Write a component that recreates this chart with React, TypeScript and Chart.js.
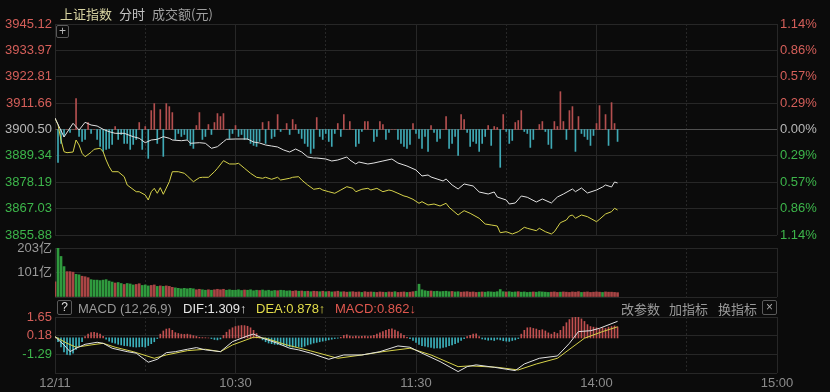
import React, { useEffect, useRef } from "react";
import { Chart, registerables } from "chart.js";

Chart.register(...registerables);

const FONT = '"Liberation Sans", "Noto Sans CJK SC", sans-serif';
const CJK = '"Noto Sans CJK SC", "Liberation Sans", sans-serif';
const BG = "#0b0b0b";
const GRID = "#272727";
const GRID_BASE = "#505050";
const RED = "#d55f5a";
const GREEN = "#3db64b";
const NEUTRAL = "#b8b8b8";
const AXIS_TEXT = "#8c8c8c";
const WHITE = "#e2e2e2";
const YELLOW = "#d6d24a";
const BAR_RED = "#b44f4f";
const BAR_CYAN = "#3fa9b5";
const VOL_RED = "#a94545";
const VOL_GREEN = "#2f9a3e";
const MACD_RED = "#c25050";
const MACD_CYAN = "#3bb0bb";

// ---------- axes / tick data ----------
const BASE_PRICE = 3900.5;
const priceTicks = [3855.88, 3867.03, 3878.19, 3889.34, 3900.5, 3911.66, 3922.81, 3933.97, 3945.12];
const pctTickLabels = ["1.14%", "0.86%", "0.57%", "0.29%", "0.00%", "0.29%", "0.57%", "0.86%", "1.14%"];
const volTicks = [0, 101.5, 203];
const volTickLabels = ["", "101亿", "203亿"];
const macdTicks = [-2.76, -1.29, 0.18, 1.65];
const macdTickLabels = ["", "-1.29", "0.18", "1.65"];
const timeTicks = [0, 30, 60, 90, 120, 150, 180, 210, 240];
const timeLabels = ["12/11", "", "10:30", "", "11:30", "", "14:00", "", "15:00"];

// ---------- index line (white) ----------
const priceMinutes = [0, 3, 6, 8, 10, 12, 14, 16, 18, 20, 23, 26, 28, 30, 32, 34, 36, 38, 39, 42, 44, 45, 48, 50, 52, 54, 56, 57, 60, 64, 66, 68, 70, 72, 74, 76, 78, 80, 82, 84, 86, 87, 90, 92, 94, 97, 98, 100, 101, 104, 106, 109, 112, 114, 116, 117, 120, 122, 124, 125, 127, 129, 130, 132, 134, 136, 139, 141, 144, 146, 147, 150, 151, 153, 155, 157, 160, 162, 165, 167, 169, 172, 173, 175, 177, 180, 182, 183, 185, 186, 187];
const priceValues = [3905.36, 3897.33, 3903.12, 3900.29, 3903.54, 3902.4, 3901.98, 3900.58, 3899.57, 3898.89, 3898.89, 3897.46, 3896.78, 3894.92, 3896.06, 3896.36, 3897.46, 3896.78, 3896.06, 3895.76, 3896.06, 3894.66, 3894.92, 3894.66, 3892.55, 3893.23, 3895.34, 3896.36, 3896.48, 3896.48, 3895.21, 3894.79, 3893.94, 3893.52, 3893.1, 3891.83, 3890.98, 3892.25, 3890.98, 3888.87, 3888.45, 3888.45, 3888.02, 3887.18, 3887.6, 3888.87, 3887.6, 3885.91, 3886.76, 3885.91, 3886.33, 3887.18, 3888.02, 3886.33, 3885.49, 3885.06, 3883.37, 3880.84, 3881.26, 3880.41, 3879.57, 3878.72, 3879.57, 3877.03, 3875.34, 3877.45, 3876.61, 3874.07, 3873.22, 3874.07, 3871.95, 3870.68, 3868.99, 3869.42, 3872.38, 3871.83, 3869.84, 3871.11, 3869.42, 3871.95, 3873.22, 3875.34, 3874.2, 3875.76, 3873.64, 3874.91, 3876.18, 3877.03, 3876.18, 3878.3, 3877.88];

// ---------- leading line (yellow) ----------
const leadMinutes = [0, 1, 2, 3, 4, 6, 7, 8, 9, 10, 12, 13, 15, 16, 17, 18, 19, 21, 23, 24, 27, 28, 30, 31, 32, 33, 34, 35, 36, 38, 39, 41, 43, 44, 46, 48, 49, 51, 53, 54, 56, 58, 60, 61, 63, 65, 67, 69, 70, 72, 74, 75, 78, 79, 81, 82, 84, 86, 88, 89, 91, 93, 95, 97, 99, 100, 102, 104, 105, 107, 109, 111, 112, 114, 116, 117, 119, 121, 122, 124, 126, 128, 130, 131, 134, 135, 136, 138, 141, 143, 145, 147, 148, 150, 152, 154, 156, 157, 160, 161, 163, 165, 166, 168, 170, 171, 172, 173, 175, 177, 180, 181, 183, 185, 186, 187];
const leadValues = [3905.24, 3902.5, 3896.06, 3891.11, 3890.69, 3890.98, 3896.06, 3893.94, 3890.43, 3889.0, 3890.86, 3892.13, 3892.55, 3891.11, 3887.6, 3884.77, 3882.65, 3882.65, 3880.54, 3877.03, 3874.19, 3874.19, 3872.8, 3870.68, 3874.19, 3875.63, 3873.52, 3875.89, 3873.1, 3878.42, 3882.65, 3882.65, 3881.98, 3880.83, 3878.42, 3880.12, 3880.29, 3880.29, 3882.65, 3884.09, 3887.31, 3885.91, 3885.91, 3886.21, 3884.09, 3881.98, 3880.29, 3879.86, 3880.29, 3879.44, 3880.29, 3879.14, 3879.86, 3880.29, 3880.54, 3879.14, 3877.03, 3875.21, 3875.63, 3874.91, 3874.19, 3873.52, 3874.91, 3876.31, 3875.63, 3874.19, 3875.21, 3875.63, 3874.91, 3875.63, 3874.19, 3874.91, 3874.62, 3873.52, 3872.38, 3872.08, 3870.98, 3869.29, 3869.97, 3868.57, 3868.99, 3868.15, 3869.29, 3867.6, 3864.34, 3865.31, 3866.16, 3865.06, 3862.95, 3860.53, 3860.11, 3859.69, 3856.86, 3857.28, 3856.31, 3857.28, 3859.14, 3858.72, 3857.7, 3858.72, 3857.28, 3856.31, 3857.28, 3861.09, 3862.23, 3863.92, 3864.34, 3862.95, 3864.34, 3863.62, 3861.51, 3862.52, 3864.76, 3865.74, 3867.17, 3866.46];

// ---------- up/down breadth bars (one per minute) ----------
const breadth = [
  0, -33, -14, -7, 0, -3, 0, 31, -7, -12,
  -10, 7, -4, 0, -10, -17, -22, -20, -19, -15,
  3, -10, -5, -14, -14, -20, -15, -10, 7, -20,
  3, -29, 19, 26, -14, 20, -27, 26, 23, 17,
  -10, -4, -7, -5, -10, -16, -19, 4, 17, -10,
  -7, 5, -5, 7, 16, 13, 16, 0, -9, -4,
  4, -7, -5, -10, -10, -14, -16, -17, -12, 7,
  -14, 8, -9, -7, 15, -2, 0, 6, -5, 10,
  5, -4, -9, -14, -17, -24, -19, 12, -7, -10,
  -4, -12, -17, -4, 6, -7, 15, 0, 8, 0,
  -17, -14, -2, 8, 8, 0, -12, -7, 8, 5,
  -10, -3, 0, 0, -10, -14, -17, -19, -15, 6,
  -4, -9, -19, -7, -22, 4, -3, -12, -9, 0,
  13, -19, -14, -7, -26, 15, 10, -3, -17, -12,
  -14, -22, -14, -7, 4, -16, 3, 2, -38, 15,
  -2, -14, -11, 7, 9, 19, -2, -4, -18, -10,
  0, 5, 8, -2, -15, -19, 8, 3, 38, 8,
  -10, 19, 23, -22, 13, -4, -7, -10, -16, -6,
  6, 24, 0, 15, -16, 27, 6, -12,
];

// ---------- turnover (亿元, one per minute) ----------
const volume = [
  63, 203, 168, 126, 105, 105, 103, 94, 92, 86,
  84, 80, 72, 70, 70, 68, 70, 72, 66, 62,
  58, 60, 56, 52, 56, 54, 50, 52, 55, 48,
  50, 46, 48, 50, 44, 46, 44, 46, 44, 40,
  38, 36, 34, 36, 34, 36, 34, 30, 32, 30,
  28, 30, 28, 30, 32, 30, 32, 28, 30, 28,
  28, 30, 27, 29, 28, 30, 26, 28, 27, 29,
  26, 28, 25, 27, 26, 28, 27, 25, 26, 24,
  26, 24, 25, 23, 24, 22, 24, 23, 22, 24,
  22, 23, 21, 22, 24, 21, 22, 20, 21, 22,
  20, 21, 19, 22, 20, 21, 20, 19, 21, 20,
  19, 21, 20, 22, 19, 20, 21, 19, 20, 22,
  24, 53, 30, 26, 24, 25, 23, 24, 22, 23,
  24, 22, 23, 21, 22, 20, 21, 22, 20, 21,
  19, 20, 21, 20, 22, 21, 20, 22, 31, 22,
  21, 22, 20, 21, 22, 20, 21, 19, 20, 21,
  20, 22, 21, 20, 19, 20, 21, 19, 20, 21,
  20, 19, 21, 20, 22, 19, 20, 21, 19, 20,
  21, 20, 19, 21, 20, 20, 19, 18,
];
const volumeUp = [
  1, 0, 0, 0, 1, 1, 1, 0, 0, 1,
  1, 1, 0, 0, 0, 0, 0, 0, 0, 0,
  1, 0, 0, 1, 0, 0, 0, 1, 1, 0,
  0, 0, 1, 1, 0, 1, 0, 1, 1, 1,
  0, 0, 0, 0, 0, 0, 0, 1, 1, 0,
  0, 1, 0, 1, 1, 1, 1, 0, 0, 0,
  0, 0, 0, 1, 0, 0, 0, 0, 1, 0,
  0, 0, 0, 0, 1, 0, 0, 0, 0, 1,
  1, 0, 1, 0, 1, 0, 1, 1, 0, 1,
  0, 1, 0, 1, 1, 0, 1, 1, 0, 1,
  1, 1, 0, 1, 1, 1, 0, 1, 1, 1,
  0, 1, 1, 0, 1, 1, 1, 0, 1, 1,
  0, 0, 0, 0, 0, 1, 0, 0, 0, 0,
  0, 0, 1, 0, 0, 1, 1, 1, 1, 1,
  1, 0, 1, 0, 0, 0, 0, 0, 0, 0,
  1, 0, 0, 0, 1, 0, 0, 0, 0, 1,
  0, 0, 0, 0, 0, 1, 1, 1, 0, 1,
  1, 1, 1, 1, 1, 0, 1, 1, 1, 1,
  1, 1, 0, 1, 1, 1, 1, 1,
];

// ---------- MACD ----------
const macdHist = [
  0, -0.3, -0.7, -1.1, -1.3, -1.33, -1.2, -0.9, -0.6, -0.3,
  0.1, 0.3, 0.42, 0.45, 0.38, 0.3, 0.12, -0.1, -0.25, -0.35,
  -0.42, -0.5, -0.55, -0.6, -0.62, -0.66, -0.7, -0.72, -0.7, -0.68,
  -0.72, -0.6, -0.45, -0.3, -0.05, 0.3, 0.55, 0.7, 0.74, 0.6,
  0.42, 0.35, 0.3, 0.28, 0.3, 0.25, 0.18, 0.12, 0.05, 0.03,
  0.02, 0, -0.05, -0.12, -0.15, -0.08, 0.2, 0.45, 0.65, 0.8,
  0.9, 0.95, 0.98, 0.97, 0.92, 0.8, 0.6, 0.35, 0.1, -0.15,
  -0.3, -0.4, -0.45, -0.5, -0.52, -0.55, -0.6, -0.65, -0.7, -0.72,
  -0.7, -0.68, -0.72, -0.65, -0.55, -0.48, -0.4, -0.35, -0.3, -0.25,
  -0.2, -0.15, -0.1, -0.05, -0.02, 0.05, 0.2, 0.25, 0.15, 0.1,
  0.15, 0.1, 0.12, 0.15, 0.1, 0.15, 0.2, 0.3, 0.4, 0.5,
  0.6, 0.68, 0.71, 0.62, 0.5, 0.35, 0.2, 0.05, -0.05, -0.2,
  -0.35, -0.5, -0.6, -0.65, -0.7, -0.75, -0.8, -0.78, -0.8, -0.75,
  -0.7, -0.6, -0.55, -0.45, -0.35, -0.2, -0.05, 0.1, 0.2, 0.3,
  0.32, 0.1, -0.08, -0.12, -0.18, -0.15, -0.2, -0.1, -0.15, -0.22,
  -0.25, -0.27, -0.2, -0.15, -0.05, 0.3, 0.6, 0.8, 0.82, 0.75,
  0.7, 0.6, 0.65, 0.55, 0.4, 0.3, 0.45, 0.35, 0.6, 0.9,
  1.2, 1.45, 1.6, 1.64, 1.62, 1.5, 1.3, 1.05, 0.9, 0.85,
  0.8, 0.7, 0.8, 0.75, 0.85, 0.9, 0.95, 0.862,
];
const difMinutes = [0, 3, 5, 7, 10, 14, 16, 19, 24, 27, 31, 34, 37, 40, 44, 47, 50, 55, 59, 64, 66, 69, 74, 78, 81, 85, 91, 96, 102, 108, 114, 118, 122, 128, 134, 137, 140, 146, 150, 153, 156, 161, 167, 171, 174, 178, 181, 187];
const difValues = [0.1, -0.55, -1.08, -0.81, -0.5, -0.34, -0.42, -0.81, -1.08, -1.2, -1.91, -1.68, -1.16, -1.08, -0.89, -0.76, -0.94, -1.08, -0.29, 0.16, 0.31, -0.02, -0.42, -0.81, -0.94, -1.2, -1.68, -1.34, -1.34, -1.08, -0.63, -0.73, -1.2, -1.86, -2.65, -2.26, -2.12, -2.31, -2.46, -2.57, -2.05, -1.6, -1.42, -0.42, 0.5, 0.57, 0.76, 1.309];
const deaMinutes = [0, 4, 7, 12, 16, 20, 26, 33, 37, 44, 50, 55, 59, 66, 70, 77, 85, 94, 102, 109, 118, 125, 134, 138, 147, 154, 160, 167, 176, 182, 187];
const deaValues = [0.1, -0.42, -0.73, -0.55, -0.42, -0.73, -1.08, -1.6, -1.34, -1.0, -0.89, -1.08, -0.55, 0.06, -0.02, -0.55, -1.02, -1.6, -1.34, -1.08, -0.81, -1.34, -2.26, -2.2, -2.31, -2.52, -2.05, -1.6, -0.02, 0.5, 0.878];

// ---------- helpers ----------
const pts = (xs: number[], ys: number[]) => xs.map((x, i) => ({ x, y: ys[i] }));
const perMinute = (ys: number[]) => ys.map((y, i) => ({ x: i, y }));
const signColor = (v: number, base: number) => (v > base + 1e-9 ? RED : v < base - 1e-9 ? GREEN : NEUTRAL);

function xScale(showLabels: boolean, height: number): any {
  return {
    type: "linear",
    min: 0,
    max: 240,
    offset: false,
    afterBuildTicks: (s: any) => {
      s.ticks = timeTicks.map((v) => ({ value: v }));
    },
    afterFit: (s: any) => {
      s.height = height;
      s.paddingLeft = 0;
      s.paddingRight = 0;
    },
    grid: { color: GRID, lineWidth: 1, drawTicks: false, offset: false },
    border: {
      display: false,
      dash: (ctx: any) => (ctx.tick && (ctx.tick.value / 30) % 2 === 1 ? [2, 2] : []),
    },
    ticks: {
      display: showLabels,
      autoSkip: false,
      maxRotation: 0,
      padding: 3,
      color: AXIS_TEXT,
      font: { size: 13, family: FONT },
      callback: (_v: any, i: number) => timeLabels[i] ?? "",
    },
  };
}

function yScale(opts: {
  min: number;
  max: number;
  ticks: number[];
  labels: (i: number, v: number) => string;
  color: (v: number) => string;
  position: "left" | "right";
  width: number;
  gridColor?: (v: number) => string;
  showGrid: boolean;
}): any {
  return {
    type: "linear",
    position: opts.position,
    min: opts.min,
    max: opts.max,
    afterBuildTicks: (s: any) => {
      s.ticks = opts.ticks.map((v) => ({ value: v }));
    },
    afterFit: (s: any) => {
      s.width = opts.width;
      s.paddingTop = 0;
      s.paddingBottom = 0;
    },
    grid: {
      display: opts.showGrid,
      drawTicks: false,
      color: (ctx: any) => (opts.gridColor && ctx.tick ? opts.gridColor(ctx.tick.value) : GRID),
    },
    border: { display: opts.position === "left", color: GRID },
    ticks: {
      padding: 3,
      font: { size: 13, family: FONT },
      color: (ctx: any) => opts.color(ctx.tick ? ctx.tick.value : 0),
      callback: (v: any, i: number) => opts.labels(i, Number(v)),
    },
  };
}

const commonOptions = (padding: any) => ({
  responsive: false,
  animation: false,
  events: [],
  layout: { padding },
  plugins: { legend: { display: false }, tooltip: { enabled: false } },
});

function mainConfig(): any {
  return {
    type: "line",
    data: {
      datasets: [
        {
          type: "line",
          label: "上证指数",
          data: pts(priceMinutes, priceValues),
          yAxisID: "y",
          borderColor: WHITE,
          borderWidth: 1,
          pointRadius: 0,
          tension: 0,
          order: 0,
        },
        {
          type: "line",
          label: "领先指标",
          data: pts(leadMinutes, leadValues),
          yAxisID: "y",
          borderColor: YELLOW,
          borderWidth: 1,
          pointRadius: 0,
          tension: 0,
          order: 1,
        },
        {
          type: "bar",
          label: "涨跌",
          data: perMinute(breadth),
          yAxisID: "yb",
          barThickness: 1,
          backgroundColor: (c: any) => (c.raw && c.raw.y >= 0 ? BAR_RED : BAR_CYAN),
          order: 2,
        },
      ],
    },
    options: {
      ...commonOptions({ top: 24, left: 0, right: 0, bottom: 0 }),
      scales: {
        x: xScale(false, 10),
        y: yScale({
          min: priceTicks[0],
          max: priceTicks[priceTicks.length - 1],
          ticks: priceTicks,
          labels: (_i, v) => v.toFixed(2),
          color: (v) => signColor(v, BASE_PRICE),
          position: "left",
          width: 55,
          gridColor: (v) => (Math.abs(v - BASE_PRICE) < 1e-6 ? GRID_BASE : GRID),
          showGrid: true,
        }),
        y2: yScale({
          min: priceTicks[0],
          max: priceTicks[priceTicks.length - 1],
          ticks: priceTicks,
          labels: (i) => pctTickLabels[i] ?? "",
          color: (v) => signColor(v, BASE_PRICE),
          position: "right",
          width: 53,
          showGrid: false,
        }),
        yb: { type: "linear", display: false, min: -106, max: 106 },
      },
    },
  };
}

function volumeConfig(): any {
  return {
    type: "bar",
    data: {
      datasets: [
        {
          type: "bar",
          label: "成交额",
          data: perMinute(volume),
          yAxisID: "y",
          barThickness: 2,
          backgroundColor: (c: any) => (volumeUp[c.dataIndex] ? VOL_RED : VOL_GREEN),
        },
      ],
    },
    options: {
      ...commonOptions({ top: 10, left: 0, right: 53, bottom: 0 }),
      scales: {
        x: xScale(false, 3),
        y: yScale({
          min: 0,
          max: 203,
          ticks: volTicks,
          labels: (i) => volTickLabels[i] ?? "",
          color: () => "#9a9a9a",
          position: "left",
          width: 55,
          showGrid: true,
        }),
      },
    },
  };
}

function macdConfig(): any {
  return {
    type: "line",
    data: {
      datasets: [
        {
          type: "line",
          label: "DIF",
          data: pts(difMinutes, difValues),
          yAxisID: "y",
          borderColor: WHITE,
          borderWidth: 1,
          pointRadius: 0,
          tension: 0,
          order: 0,
        },
        {
          type: "line",
          label: "DEA",
          data: pts(deaMinutes, deaValues),
          yAxisID: "y",
          borderColor: YELLOW,
          borderWidth: 1,
          pointRadius: 0,
          tension: 0,
          order: 1,
        },
        {
          type: "bar",
          label: "MACD",
          data: perMinute(macdHist),
          yAxisID: "y",
          barThickness: 1,
          backgroundColor: (c: any) => (c.raw && c.raw.y >= 0 ? MACD_RED : MACD_CYAN),
          order: 2,
        },
      ],
    },
    options: {
      ...commonOptions({ top: 21, left: 0, right: 53, bottom: 0 }),
      scales: {
        x: xScale(true, 19),
        y: yScale({
          min: macdTicks[0],
          max: macdTicks[macdTicks.length - 1],
          ticks: macdTicks,
          labels: (i) => macdTickLabels[i] ?? "",
          color: (v) => signColor(v, 0),
          position: "left",
          width: 55,
          showGrid: true,
        }),
      },
    },
  };
}

function Txt(props: { x: number; y: number; color: string; children: any; size?: number; font?: string }) {
  return (
    <span
      style={{
        position: "absolute",
        left: props.x,
        top: props.y,
        color: props.color,
        fontSize: props.size ?? 13,
        lineHeight: "13px",
        fontFamily: props.font ?? FONT,
        whiteSpace: "nowrap",
      }}
    >
      {props.children}
    </span>
  );
}

function Box(props: { x: number; y: number; w: number; h: number; children: any; color: string }) {
  return (
    <div
      style={{
        position: "absolute",
        left: props.x,
        top: props.y,
        width: props.w,
        height: props.h,
        border: "1px solid #5a5a5a",
        borderRadius: 2,
        boxSizing: "border-box",
        color: props.color,
        fontSize: 12,
        lineHeight: `${props.h - 2}px`,
        textAlign: "center",
        fontFamily: FONT,
      }}
    >
      {props.children}
    </div>
  );
}

export default function App() {
  const mainRef = useRef<HTMLCanvasElement>(null);
  const volRef = useRef<HTMLCanvasElement>(null);
  const macdRef = useRef<HTMLCanvasElement>(null);

  useEffect(() => {
    Chart.defaults.font.family = FONT;
    Chart.defaults.font.size = 13;
    const charts = [
      new Chart(mainRef.current as HTMLCanvasElement, mainConfig()),
      new Chart(volRef.current as HTMLCanvasElement, volumeConfig()),
      new Chart(macdRef.current as HTMLCanvasElement, macdConfig()),
    ];
    return () => charts.forEach((c) => c.destroy());
  }, []);

  return (
    <div
      style={{
        position: "fixed",
        left: 0,
        top: 0,
        width: 830,
        height: 392,
        background: BG,
        overflow: "hidden",
      }}
    >
      <canvas ref={mainRef} width={830} height={245} style={{ position: "absolute", left: 0, top: 0 }} />
      <canvas ref={volRef} width={830} height={62} style={{ position: "absolute", left: 0, top: 238 }} />
      <canvas ref={macdRef} width={830} height={96} style={{ position: "absolute", left: 0, top: 296 }} />

      <Txt x={60} y={7} color="#d8d4a2" font={CJK}>上证指数</Txt>
      <Txt x={119} y={7} color="#c4c4c4" font={CJK}>分时</Txt>
      <Txt x={152} y={7} color="#a0a0a0" font={CJK}>成交额(元)</Txt>
      <Box x={56} y={25} w={13} h={13} color="#bbbbbb">+</Box>

      <Box x={57} y={300} w={15} h={15} color="#dddddd">?</Box>
      <Txt x={78} y={302} color="#9a9a9a">MACD (12,26,9)</Txt>
      <Txt x={183} y={302} color="#e6e6e6">DIF:1.309↑</Txt>
      <Txt x={256} y={302} color="#e2dc4a">DEA:0.878↑</Txt>
      <Txt x={335} y={302} color="#e0584f">MACD:0.862↓</Txt>
      <Txt x={621} y={302} color="#9a9a9a" font={CJK}>改参数</Txt>
      <Txt x={669} y={302} color="#9a9a9a" font={CJK}>加指标</Txt>
      <Txt x={718} y={302} color="#9a9a9a" font={CJK}>换指标</Txt>
      <Box x={762} y={300} w={15} h={15} color="#aaaaaa">×</Box>
    </div>
  );
}
